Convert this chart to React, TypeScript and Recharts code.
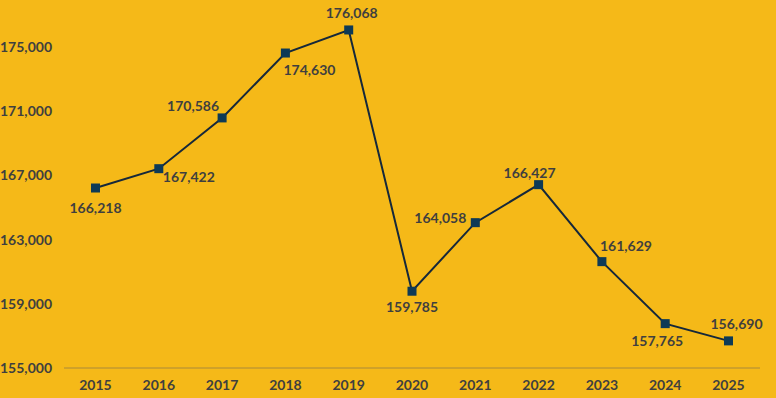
import { LineChart, Line, XAxis, YAxis } from "recharts";

const years = ["2015", "2016", "2017", "2018", "2019", "2020", "2021", "2022", "2023", "2024", "2025"];
const totals = [166218, 167422, 170586, 174630, 176068, 159785, 164058, 166427, 161629, 157765, 156690];
const yTicks = [155000, 159000, 163000, 167000, 171000, 175000];

// where each value label sits relative to its marker (dx, dy)
const labelSpots = [
  [0, 19], [30, 8], [-29, -12], [24, 16], [3, -17], [0, 15],
  [-35, -5], [-9, -12], [24, -16], [-8, 17], [8, -17],
];

const BG = "#F5B918";
const TEXT = "#3F3F3F";
const FONT = "Lato, 'Open Sans', sans-serif";

const rows = years.map((year, i) => ({ year, total: totals[i] }));

const fmt = (v: number) => v.toLocaleString("en-US");

function SquareDot(props: any) {
  const { cx, cy } = props;
  if (cx == null || cy == null) return null;
  return <rect x={cx - 4.5} y={cy - 4.5} width={9} height={9} fill="#0E3A56" />;
}

function ValueLabel(props: any) {
  const { x, y, value, index } = props;
  const [dx, dy] = labelSpots[index] || [0, -14];
  return (
    <text
      x={x + dx}
      y={y + dy}
      textAnchor="middle"
      dominantBaseline="central"
      fill={TEXT}
      fontFamily={FONT}
      fontWeight={700}
      fontSize={14}
    >
      {fmt(value)}
    </text>
  );
}

export default function App() {
  return (
    <div style={{ position: "absolute", left: 0, top: 0, width: 776, height: 398, background: BG }}>
      <LineChart width={776} height={398} data={rows} margin={{ top: 15, right: 16, bottom: 0, left: 0 }}>
        <XAxis
          dataKey="year"
          padding={{ left: 31.5, right: 31.5 }}
          tickLine={false}
          axisLine={{ stroke: "#A8893A", strokeWidth: 1 }}
          tick={{ fill: TEXT, fontFamily: FONT, fontWeight: 700, fontSize: 14 }}
          tickMargin={6}
          height={30}
        />
        <YAxis
          domain={[155000, 177000]}
          ticks={yTicks}
          tickFormatter={fmt}
          axisLine={false}
          tickLine={false}
          tick={{ fill: TEXT, fontFamily: FONT, fontWeight: 700, fontSize: 14 }}
          tickMargin={6}
          width={64}
          allowDataOverflow
        />
        <Line
          dataKey="total"
          stroke="#16283A"
          strokeWidth={2}
          dot={<SquareDot />}
          activeDot={false}
          label={<ValueLabel />}
          isAnimationActive={false}
        />
      </LineChart>
    </div>
  );
}
